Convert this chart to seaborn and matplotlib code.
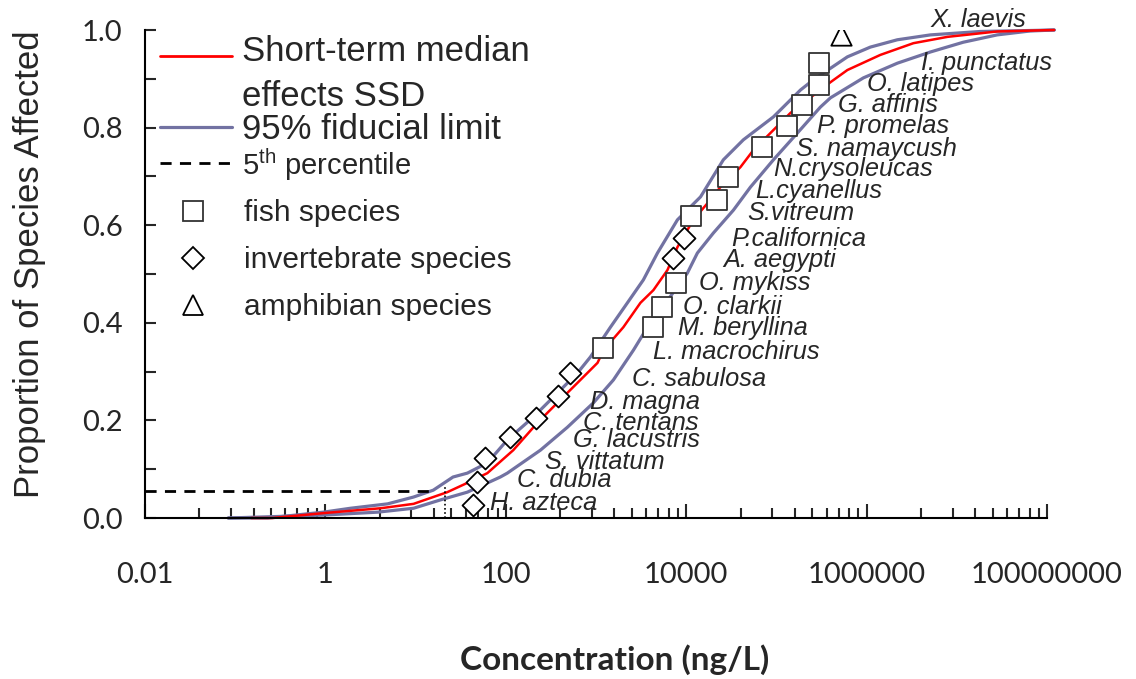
import numpy as np
import pandas as pd
import matplotlib.pyplot as plt
import matplotlib.ticker as mticker
from matplotlib.lines import Line2D
import seaborn as sns

# species data
species = ["H. azteca", "C. dubia", "S. vittatum", "G. lacustris", "C. tentans",
           "D. magna", "C. sabulosa", "L. macrochirus", "M. beryllina", "O. clarkii",
           "O. mykiss", "A. aegypti", "P.californica", "S.vitreum", "L.cyanellus",
           "N.crysoleucas", "S. namaycush", "P. promelas", "G. affinis", "O. latipes",
           "I. punctatus", "X. laevis"]
group = ["invertebrate"] * 7 + ["fish"] * 4 + ["invertebrate"] * 2 + ["fish"] * 8 + ["amphibian"]
conc = [43.7, 48.4, 59.4, 110, 218, 383, 520, 1208, 4327, 5450, 7780, 7210, 9550,
        11400, 22200, 29400, 70000, 132000, 194000, 300000, 300000, 525000]
frac = [0.027, 0.074, 0.123, 0.166, 0.205, 0.250, 0.297, 0.348, 0.391, 0.432, 0.482,
        0.533, 0.574, 0.619, 0.652, 0.699, 0.761, 0.803, 0.846, 0.887, 0.932, 0.990]

# SSD curve (median) and 95% fiducial limits
md_conc = [0.15, 0.26, 0.95, 4.1, 9.5, 15.7, 22.5, 37.5, 62.5, 121, 224, 373, 672, 1040,
           1210, 2010, 3110, 4330, 6190, 7990, 12000, 17200, 23900, 39900, 55600, 92600,
           143000, 221000, 397000, 612000, 1.42e6, 3.3e6, 7.9e6, 2.8e7, 1.2e8]
md_frac = [0, 0, 0.010, 0.020, 0.029, 0.043, 0.053, 0.072, 0.092, 0.139, 0.195, 0.236,
           0.283, 0.318, 0.344, 0.391, 0.441, 0.467, 0.508, 0.555, 0.611, 0.645, 0.678,
           0.719, 0.754, 0.795, 0.830, 0.857, 0.893, 0.918, 0.949, 0.973, 0.986, 0.997, 1.0]

ub_conc = [0.084, 0.23, 0.95, 1.9, 4.9, 9.5, 15.7, 26, 37.5, 62.5, 104, 202, 373, 622, 867,
           1445, 2230, 3350, 4800, 7990, 14400, 25800, 43000, 92600, 184600, 257000,
           612000, 1.1e6, 2.19e6, 5.1e6, 1.83e7, 6.5e7, 1.2e8]
ub_frac = [0, 0, 0.012, 0.020, 0.029, 0.043, 0.057, 0.084, 0.092, 0.113, 0.160, 0.207,
           0.256, 0.297, 0.330, 0.391, 0.441, 0.488, 0.543, 0.611, 0.658, 0.734, 0.775,
           0.822, 0.877, 0.898, 0.945, 0.965, 0.980, 0.990, 0.997, 0.999, 1.0]

lb_conc = [0.084, 0.95, 3.8, 9.5, 18.8, 37.5, 87, 104, 242, 482, 936, 1560, 2600, 3720,
           5180, 10300, 13300, 20000, 33400, 51500, 92600, 171000, 307000, 397000,
           922000, 2.19e6, 5.1e6, 1.18e7, 2.8e7, 6.5e7, 1.2e8]
lb_frac = [0, 0.006, 0.012, 0.020, 0.037, 0.053, 0.084, 0.092, 0.139, 0.186, 0.236,
           0.283, 0.344, 0.391, 0.426, 0.502, 0.543, 0.584, 0.631, 0.678, 0.734, 0.789,
           0.842, 0.861, 0.902, 0.932, 0.955, 0.975, 0.990, 0.998, 1.0]

hc5_conc = 21
hc5_frac = 0.055

xtick_vals = [0.01, 1, 100, 1e4, 1e6, 1e8]
xtick_labels = ["0.01", "1", "100", "10000", "1000000", "100000000"]

# label offsets from each marker, pixels
label_dx = [17, 40, 60, 63, 47, 32, 62, 50, 25, 21, 23, 50, 47, 56, 38, 45, 34, 30, 36, 48, 102, 89]
label_dy = [2, 2, -4, -3, -5, -6, -6, -4, -1, 0, 0, -2, -1, 3, 9, 8, -2, 0, 0, 1, 0, 15]

df = pd.DataFrame({"species": species, "group": group, "conc": conc, "frac": frac})

sns.set_style("ticks")
plt.rcParams["font.family"] = ["Liberation Sans", "DejaVu Sans"]
plt.rcParams["mathtext.fontset"] = "custom"
plt.rcParams["mathtext.rm"] = "Liberation Sans"

blue = "#7272A2"

fig, ax = plt.subplots(figsize=(11.36, 6.79), dpi=100)
fig.subplots_adjust(left=0.1276, right=0.9217, bottom=0.2371, top=0.9558)
ax.set_xscale("log")

for cx, cy, col, lw in [(lb_conc, lb_frac, blue, 2.3), (ub_conc, ub_frac, blue, 2.3),
                        (md_conc, md_frac, "red", 1.8)]:
    sns.lineplot(x=cx, y=cy, color=col, lw=lw, sort=False, estimator=None, ax=ax)
for ln in ax.lines:
    ln.set_clip_on(False)

# 5th percentile
ax.plot([0.01, hc5_conc * 0.8], [hc5_frac, hc5_frac], color="black", lw=2,
        dashes=(4, 3))
ax.plot([hc5_conc, hc5_conc], [0, hc5_frac + 0.01], color="black", lw=1.2,
        ls=(0, (1, 1.5)))

markers = {"fish": ("s", 190, "#333333"), "invertebrate": ("D", 125, "black"),
           "amphibian": ("^", 215, "black")}
for g, (m, s, ec) in markers.items():
    sns.scatterplot(data=df[df.group == g], x="conc", y="frac", marker=m, s=s,
                    color="white", edgecolor=ec, linewidth=1.3, zorder=5,
                    legend=False, ax=ax)

for name, c, f, dx, dy in zip(species, conc, frac, label_dx, label_dy):
    ax.annotate(name, (c, f), xytext=(dx, dy), textcoords="offset pixels",
                fontsize=18.3, style="italic", ha="left", va="center")

ax.set_xlim(0.01, 1e8)
ax.set_ylim(0, 1)
ax.set_xticks(xtick_vals, xtick_labels)
ax.xaxis.set_minor_locator(mticker.LogLocator(base=100, subs=[4, 9, 16, 25, 36, 49, 64, 81],
                                              numticks=30))
ax.xaxis.set_minor_formatter(mticker.NullFormatter())
ax.set_yticks(np.arange(0, 1.01, 0.2))
ax.yaxis.set_major_formatter(mticker.StrMethodFormatter("{x:.1f}"))
ax.yaxis.set_minor_locator(mticker.MultipleLocator(0.1))

ax.tick_params(axis="x", which="major", direction="in", length=10, width=1.5, pad=32,
               labelsize=21, labelfontfamily="Lato")
ax.tick_params(axis="x", which="minor", direction="in", length=7, width=1.5)
ax.tick_params(axis="y", which="both", direction="in", length=8, width=1.5, pad=16,
               labelsize=21, labelfontfamily="Lato")
for side in ["top", "right"]:
    ax.spines[side].set_visible(False)
for side in ["left", "bottom"]:
    ax.spines[side].set_linewidth(1.5)
    ax.spines[side].set_color("black")

ax.set_xlabel("Concentration (ng/L)", fontsize=24, fontweight="bold",
              family=["Lato", "DejaVu Sans"], va="center")
ax.xaxis.set_label_coords(0.521, -0.29)
ax.set_ylabel("Proportion of Species Affected", fontsize=25, va="center")
ax.yaxis.set_label_coords(-0.1275, 0.52)

# legend: lines
line_handles = [
    Line2D([], [], color="red", lw=2),
    Line2D([], [], color=blue, lw=2.3),
    Line2D([], [], color="black", lw=2, dashes=(4, 3)),
]
line_labels = ["Short-term median\neffects SSD", "95% fiducial limit",
               "5$^{\\rm th}$ percentile"]
leg1 = ax.legend(line_handles, line_labels, loc="upper left", bbox_to_anchor=(0.0166, 0.989),
                 frameon=False, fontsize=25, handlelength=2.07, handletextpad=0.29,
                 borderpad=0, borderaxespad=0, labelspacing=0.0)
t1 = leg1.get_texts()
t1[0].set_linespacing(1.45)
t1[2].set_fontsize(21)
# red handle sits beside the first line of its two-line label
red_handle = leg1.legend_handles[0]
red_handle.set_ydata(np.asarray(red_handle.get_ydata()) + 14)
ax.add_artist(leg1)

# legend: species groups
mark_handles = [
    Line2D([], [], marker="s", ms=14, mfc="white", mec="#333333", mew=1.3, ls="none"),
    Line2D([], [], marker="D", ms=11, mfc="white", mec="black", mew=1.3, ls="none"),
    Line2D([], [], marker="^", ms=15, mfc="white", mec="black", mew=1.3, ls="none"),
]
mark_labels = ["fish species", "invertebrate species", "amphibian species"]
ax.legend(mark_handles, mark_labels, loc="upper left", bbox_to_anchor=(0.0166, 0.653),
          frameon=False, fontsize=21.5, handlelength=2.2, handletextpad=0.63,
          borderpad=0, borderaxespad=0, labelspacing=0.63)

fig.savefig("out.png", dpi=100)
